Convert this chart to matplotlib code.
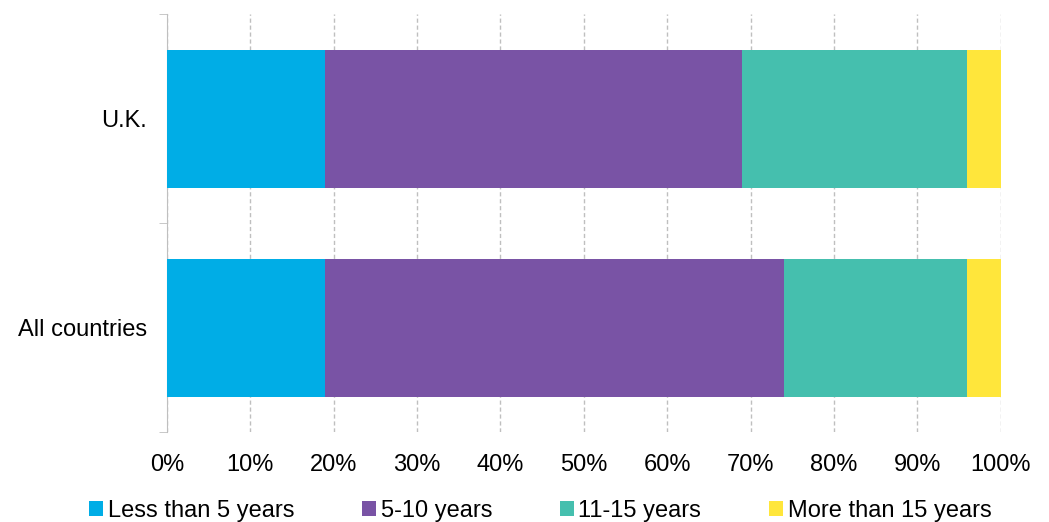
import matplotlib.pyplot as plt
import numpy as np

plt.rcParams['font.family'] = ['Liberation Sans', 'DejaVu Sans']

categories = ["All countries", "U.K."]
series_names = ["Less than 5 years", "5-10 years", "11-15 years", "More than 15 years"]
values = {
    "Less than 5 years": [19, 19],
    "5-10 years": [55, 50],
    "11-15 years": [22, 27],
    "More than 15 years": [4, 4],
}
colors = ["#00ADE6", "#7953A5", "#45BFAE", "#FFE63B"]

fig = plt.figure(figsize=(10.49, 5.22), dpi=100)
ax = fig.add_axes([0.159, 0.172, 0.795, 0.801])

y = np.arange(len(categories))
left = np.zeros(len(categories))
for name, col in zip(series_names, colors):
    v = np.array(values[name])
    ax.barh(y, v, left=left, height=0.66, color=col, label=name, zorder=3)
    left += v

ax.set_xlim(0, 100)
ax.set_ylim(-0.5, 1.5)
ax.set_xticks(np.arange(0, 101, 10))
ax.set_xticklabels([f"{t}%" for t in range(0, 101, 10)], fontsize=17)
ax.set_yticks(y)
ax.set_yticklabels(categories, fontsize=17)
ax.set_yticks([-0.5, 0.5, 1.5], minor=True)
ax.tick_params(axis='y', which='major', length=0, pad=14)
ax.tick_params(axis='y', which='minor', length=6, color='#BFBFBF')
ax.tick_params(axis='x', length=0, pad=16)
ax.grid(axis='x', color='#BFBFBF', linestyle=(0, (3, 2)), linewidth=1, zorder=0)
for s in ['top', 'right', 'bottom']:
    ax.spines[s].set_visible(False)
ax.spines['left'].set_color('#BFBFBF')

fig.legend(loc='lower center', bbox_to_anchor=(0.515, -0.04), ncol=4, frameon=False,
           fontsize=17, handlelength=0.6, handleheight=0.6, handletextpad=0.2,
           columnspacing=2.85)

fig.savefig("out.png", dpi=100)
